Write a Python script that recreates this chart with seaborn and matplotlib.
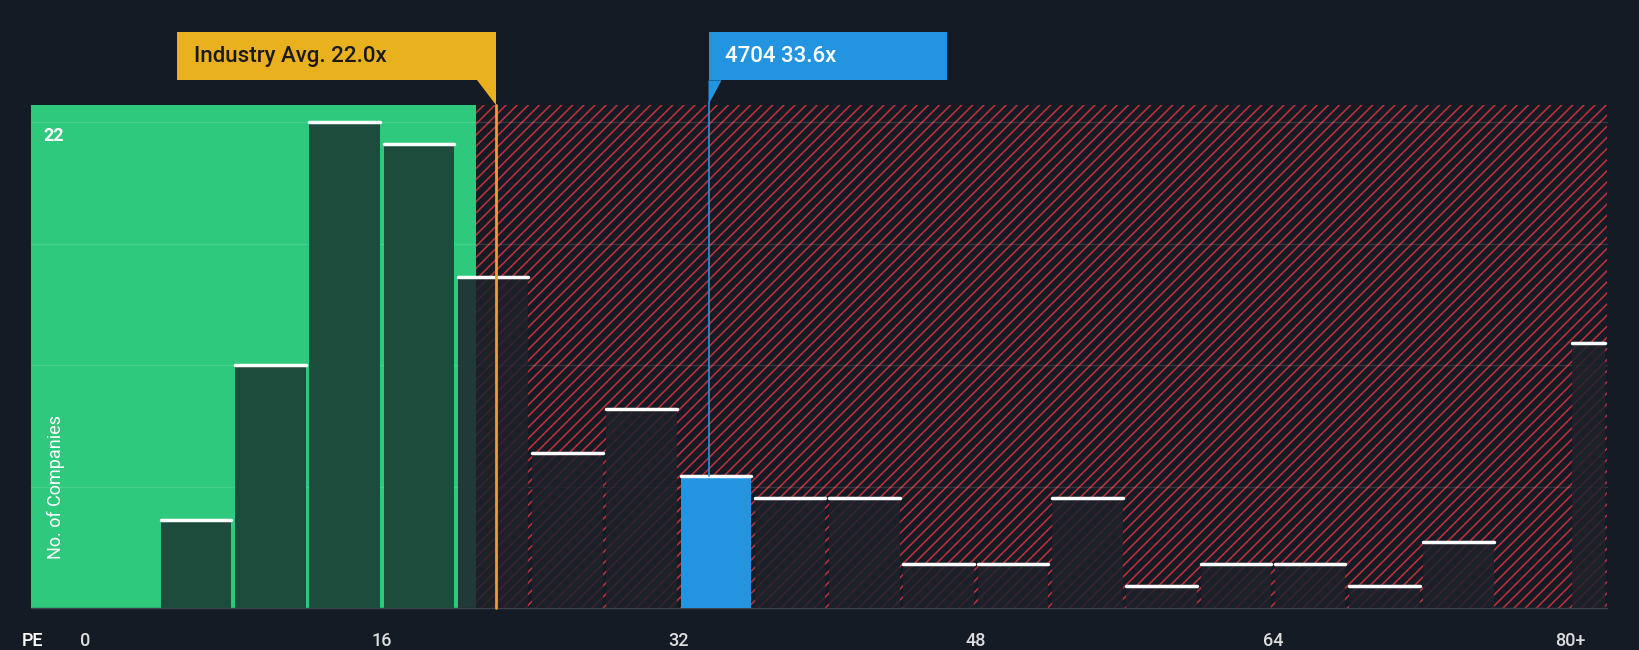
import matplotlib
matplotlib.use("Agg")
import matplotlib.pyplot as plt
import seaborn as sns
from matplotlib.patches import Rectangle, Polygon

# data
bin_left = [4, 8, 12, 16, 20, 24, 28, 32, 36, 40, 44, 48, 52, 56, 60, 64, 68, 72, 80]
bin_width = [4] * 18 + [2]
counts = [4, 11, 22, 21, 15, 7, 9, 6, 5, 5, 2, 2, 5, 1, 2, 2, 1, 3, 12]
tick_pos = [0, 16, 32, 48, 64, 80]
tick_lab = ["0", "16", "32", "48", "64", "80+"]
industry_avg = 22.0
company_pe = 33.6
company = "4704"
green_end = 21.1
x_max = 82

bg = "#151b24"
sns.set_style("dark")
plt.rcParams["font.family"] = ["Roboto", "DejaVu Sans"]
plt.rcParams["hatch.linewidth"] = 1.2
plt.rcParams["hatch.color"] = "#b8303a"

fig = plt.figure(figsize=(16.4, 6.5), dpi=100, facecolor=bg)
ax = fig.add_axes([0, 0, 1, 1])
ax.set_facecolor(bg)
ax.set_xlim(-4.56, 83.77)
ax.set_ylim(-1.9, 27.54)
ax.axis("off")

top = 22.8
left = -2.9
ax.add_patch(Rectangle((left, 0), green_end - left, top, facecolor="#2ec97c", edgecolor="none", zorder=0))
ax.add_patch(Rectangle((green_end, 0), x_max - green_end, top, facecolor="none",
                       edgecolor="#b8303a", hatch="///", linewidth=0, zorder=0))
for g in [5.5, 11, 16.5, 22]:
    ax.plot([left, x_max], [g, g], color="white", alpha=0.12, lw=1, zorder=1)
ax.plot([left, x_max], [0, 0], color="#3a4050", lw=1, zorder=1)

for l, w, c in zip(bin_left, bin_width, counts):
    if l <= company_pe < l + w:
        col, a = "#2394df", 1
    elif l + w <= green_end + 0.1:
        col, a = "#1d4c3c", 1
    else:
        col, a = "#1e212b", 0.85
    ax.bar(l + 0.1, c, width=w - 0.2, align="edge", color=col, alpha=a, zorder=2, linewidth=0)
    ax.plot([l + 0.1, l + w - 0.1], [c, c], color="white", lw=2.5, zorder=3)

ax.plot([industry_avg + 0.15] * 2, [0, top], color="#f0a020", lw=2, zorder=4)
ax.plot([company_pe, company_pe], [6, top + 0.1], color="#2394df", lw=1.2, zorder=4)

# label boxes
ax.add_patch(Rectangle((5.0, top + 1.1), industry_avg + 0.15 - 5.0, 2.2, facecolor="#e9b11d",
                       edgecolor="none", zorder=5))
ax.add_patch(Polygon([[industry_avg - 0.85, top + 1.1], [industry_avg + 0.15, top + 1.1],
                      [industry_avg + 0.15, top]], facecolor="#e9b11d", edgecolor="none", zorder=5))
ax.text(5.9, top + 2.2, f"Industry Avg. {industry_avg}x", color="#1a1a1a", fontsize=16,
        fontweight="medium", va="center", zorder=6)
ax.add_patch(Rectangle((company_pe, top + 1.1), 12.85, 2.2, facecolor="#2394df", edgecolor="none", zorder=5))
ax.add_patch(Polygon([[company_pe, top + 1.1], [company_pe + 0.7, top + 1.1], [company_pe, top]],
                     facecolor="#2394df", edgecolor="none", zorder=5))
ax.text(company_pe + 0.9, top + 2.2, f"{company} {company_pe}x", color="white", fontsize=16,
        fontweight="medium", va="center", zorder=6)

ax.text(-2.2, 21.4, "22", color="white", fontsize=13, fontweight="bold", va="center")
ax.text(-1.55, 5.5, "No. of Companies", color="white", fontsize=13, rotation=90, va="center", ha="center")
ax.text(-3.4, -1.5, "PE", color="white", fontsize=13, fontweight="medium", va="center")
for p, t in zip(tick_pos, tick_lab):
    ax.text(p, -1.5, t, color="#dddddd", fontsize=13, fontweight="medium", va="center", ha="center")

fig.savefig("out.png", dpi=100, facecolor=bg)
